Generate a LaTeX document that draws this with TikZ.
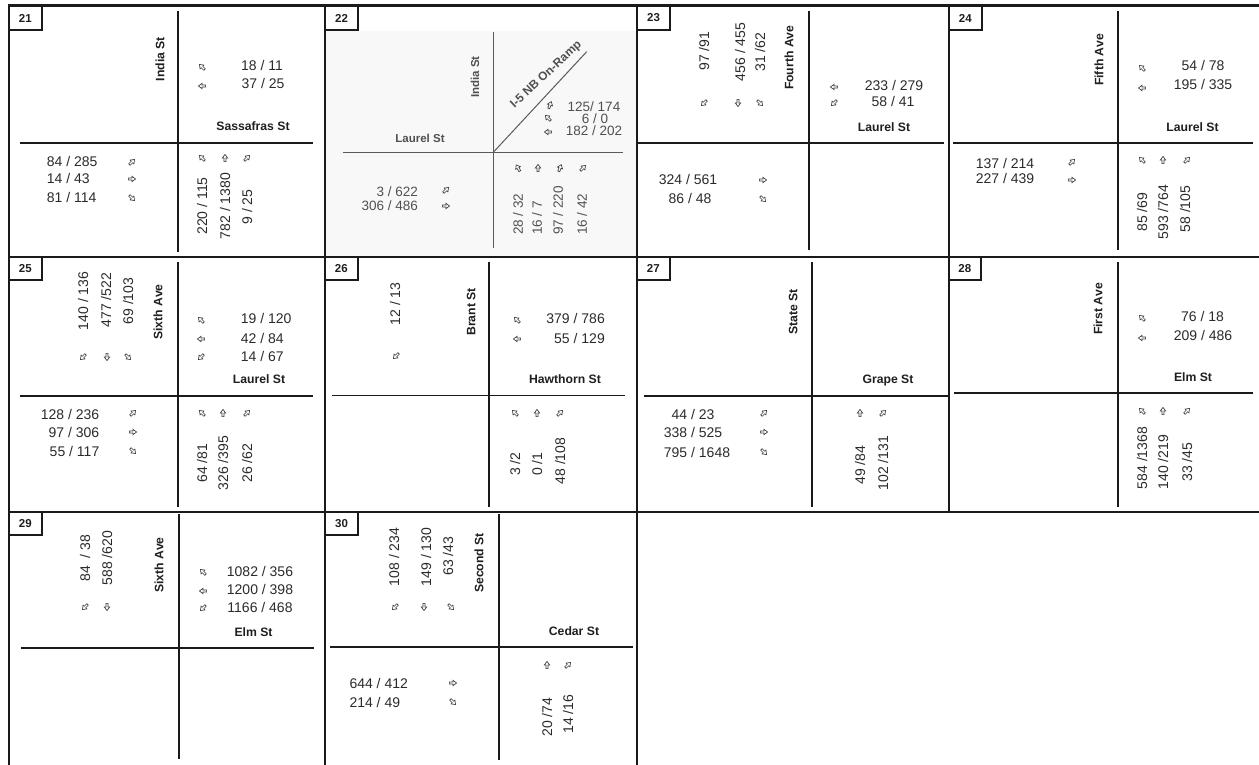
\documentclass[tikz,border=0pt]{standalone}
\usepackage{fontspec}
\setmainfont{Liberation Sans}
\definecolor{linec}{HTML}{1A1A1A}
\definecolor{numc}{HTML}{2B2B2B}
\definecolor{stc}{HTML}{1F1F1F}
\definecolor{arrc}{HTML}{3C3C3C}
\definecolor{gtext}{HTML}{505050}
\definecolor{gline}{HTML}{5A5A5A}
\definecolor{gbg}{HTML}{F8F8F8}
\newcommand{\tarr}[3]{\draw[arrglyph, shift={(#1,#2)}, rotate=#3] (-3.6,-1.05) -- (0,-1.05) -- (0,-2.7) -- (3.6,0) -- (0,2.7) -- (0,1.05) -- (-3.6,1.05) -- cycle;}
\tikzset{
  num/.style={font=\fontsize{14}{16}\selectfont, text=numc, inner sep=0pt, text height=10pt, text depth=0pt},
  numr/.style={num, rotate=90},
  num22/.style={font=\fontsize{13.5}{15}\selectfont, text=gtext, inner sep=0pt, text height=9.7pt, text depth=0pt},
  street/.style={font=\bfseries\fontsize{12.2}{14}\selectfont, text=stc, inner sep=0pt, text height=8.8pt, text depth=0pt},
  streetr/.style={street, rotate=90},
  street22/.style={font=\bfseries\fontsize{11.5}{13}\selectfont, text=gtext, inner sep=0pt, text height=8.3pt, text depth=0pt},
  cellno/.style={font=\bfseries\fontsize{11.5}{13}\selectfont, text=stc, inner sep=0pt},
  xline/.style={draw=linec, line width=1.2pt},
  gl/.style={draw=gline, line width=1pt},
  bline/.style={draw=linec, line width=2pt},
  tline/.style={draw=linec, line width=3pt},
  arrglyph/.style={draw=arrc, line width=0.65pt, line join=miter}
}
\begin{document}
\begin{tikzpicture}[x=1pt, y=-1pt]
\useasboundingbox (0,0) rectangle (1259,765);
\fill[white] (0,0) rectangle (1259,765);
% cell 22 scanned background
\fill[gbg] (326,31.5) rectangle (636,255.5);

% ===== grid =====
\draw[bline] (9,5) -- (9,765);
\draw[bline] (325,5) -- (325,765);
\draw[bline] (637,5) -- (637,765);
\draw[bline] (948.5,5) -- (948.5,511.7);
\draw[bline] (8,256.8) -- (1259,256.8);
\draw[bline] (8,511.7) -- (1259,511.7);
\draw[tline] (8,5.5) -- (1259,5.5);

% ===== number boxes =====
\draw[bline] (41.7,5.5) -- (41.7,30.3) -- (9,30.3);
\draw[bline] (358.3,5.5) -- (358.3,30.3) -- (325,30.3);
\draw[bline] (670.3,5.5) -- (670.3,30.3) -- (637,30.3);
\draw[bline] (982,5.5) -- (982,30.3) -- (948.5,30.3);
\draw[bline] (41.7,256.8) -- (41.7,280.3) -- (9,280.3);
\draw[bline] (357.7,256.8) -- (357.7,280.3) -- (325,280.3);
\draw[bline] (669.7,256.8) -- (669.7,280.3) -- (637,280.3);
\draw[bline] (981,256.8) -- (981,280.3) -- (948.5,280.3);
\draw[bline] (41.7,511.7) -- (41.7,535) -- (9,535);
\draw[bline] (358,511.7) -- (358,535) -- (325,535);
\node[cellno] (n21) at (25.3,18) {21};
\node[cellno] (n22) at (341.6,18) {22};
\node[cellno] (n23) at (653.6,18) {23};
\node[cellno] (n24) at (965.3,18) {24};
\node[cellno] (n25) at (25.3,268.6) {25};
\node[cellno] (n26) at (341.3,268.6) {26};
\node[cellno] (n27) at (653.3,268.6) {27};
\node[cellno] (n28) at (964.8,268.6) {28};
\node[cellno] (n29) at (25.3,523.4) {29};
\node[cellno] (n30) at (341.5,523.4) {30};

% ===== cell 21 =====
\draw[xline] (178,11) -- (178,252);
\draw[xline] (20,143) -- (313,143);
\node[streetr] (s21a) at (160,59) {India St};
\node[street] (s21b) at (253,126) {Sassafras St};
\tarr{202}{67}{135} \node[num] (a21) at (262,66) {18 / 11};
\tarr{202}{86}{180} \node[num] (b21) at (263,84) {37 / 25};
\node[num, anchor=west] (c21) at (46.7,162) {84 / 285};
\node[num, anchor=west] (d21) at (46.7,179) {14 / 43};
\node[num, anchor=west] (e21) at (46.7,197) {81 / 114};
\tarr{132}{162}{45} \tarr{132}{179}{0} \tarr{132}{198}{315}
\tarr{202}{158}{135} \tarr{225}{158}{90} \tarr{247}{158}{45}
\node[numr] (f21) at (202,206) {220 / 115};
\node[numr] (g21) at (225,206) {782 / 1380};
\node[numr] (h21) at (247,207) {9 / 25};

% ===== cell 22 =====
\draw[gl] (493.3,32) -- (493.3,248);
\draw[gl] (343,152.3) -- (623,152.3);
\draw[gl] (493.3,152.3) -- (586.7,51.7);
\node[street22, rotate=90] (s22a) at (475,77) {India St};
\node[street22, rotate=43, font=\bfseries\fontsize{12}{14}\selectfont] (s22b) at (545.5,74) {I-5 NB On-Ramp};
\node[street22] (s22c) at (420,138) {Laurel St};
\node[num22] (a22) at (594,107) {125/ 174};
\node[num22] (b22) at (595,118.5) {6 / 0};
\node[num22] (c22) at (594,131) {182 / 202};
\tarr{550}{105}{70} \tarr{548}{118}{135} \tarr{548}{132}{180}
\node[num22, anchor=east] (d22) at (418,192) {3 / 622};
\node[num22, anchor=east] (e22) at (418,205.5) {306 / 486};
\tarr{446}{190}{45} \tarr{446}{206}{0}
\tarr{518}{168}{120} \tarr{538}{168}{90} \tarr{560}{168}{70} \tarr{583}{168}{45}
\node[num22, rotate=90, anchor=west] (f22) at (518,235) {28 / 32};
\node[num22, rotate=90, anchor=west] (g22) at (537,235) {16 / 7};
\node[num22, rotate=90, anchor=west] (h22) at (558,235) {97 / 220};
\node[num22, rotate=90, anchor=west] (i22) at (582,235) {16 / 42};

% ===== cell 23 =====
\draw[xline] (809,11) -- (809,250);
\draw[xline] (637,143) -- (944,143);
\node[numr] (a23) at (704,51) {97 /91};
\node[numr] (b23) at (740,52) {456 / 455};
\node[numr] (c23) at (760,52) {31 /62};
\node[streetr] (s23a) at (789,58) {Fourth Ave};
\tarr{704}{103}{225} \tarr{738}{103}{270} \tarr{760}{103}{315}
\tarr{834}{87}{180} \tarr{834}{103}{225}
\node[num] (d23) at (894,86) {233 / 279};
\node[num] (e23) at (893,102) {58 / 41};
\node[street] (s23b) at (884,127) {Laurel St};
\node[num] (f23) at (688,180) {324 / 561};
\node[num] (g23) at (690,199) {86 / 48};
\tarr{763}{180}{0} \tarr{763}{199}{315}

% ===== cell 24 =====
\draw[xline] (1118,11) -- (1118,250);
\draw[xline] (953,143) -- (1253,143);
\node[streetr] (s24a) at (1099,60) {Fifth Ave};
\tarr{1142}{68}{135} \tarr{1142}{88}{180}
\node[num] (a24) at (1203,66) {54 / 78};
\node[num] (b24) at (1203,85) {195 / 335};
\node[street] (s24b) at (1192.5,127) {Laurel St};
\node[num] (c24) at (1005,163) {137 / 214};
\node[num] (d24) at (1005,179) {227 / 439};
\tarr{1072}{162}{45} \tarr{1072}{180}{0}
\tarr{1142}{160}{135} \tarr{1163}{160}{90} \tarr{1187}{160}{45}
\node[numr] (e24) at (1142,212) {85 /69};
\node[numr] (f24) at (1163,212) {593 /764};
\node[numr] (g24) at (1185,209) {58 /105};

% ===== cell 25 =====
\draw[xline] (178,262) -- (178,507);
\draw[xline] (20,396) -- (313,396);
\node[numr] (a25) at (83,301) {140 / 136};
\node[numr] (b25) at (106,300) {477 /522};
\node[numr] (c25) at (128,301) {69 /103};
\node[streetr] (s25a) at (158,312) {Sixth Ave};
\tarr{83}{357}{225} \tarr{107}{357}{270} \tarr{128}{357}{315}
\tarr{201}{320}{135} \tarr{201}{339}{180} \tarr{201}{357}{225}
\node[num, anchor=west] (d25) at (240.7,318) {19 / 120};
\node[num, anchor=west] (e25) at (240.7,338) {42 / 84};
\node[num, anchor=west] (f25) at (240.7,356) {14 / 67};
\node[street] (s25b) at (259,379) {Laurel St};
\node[num, anchor=east] (g25) at (99.5,414) {128 / 236};
\node[num, anchor=east] (h25) at (99.5,432) {97 / 306};
\node[num, anchor=east] (i25) at (99.5,451) {55 / 117};
\tarr{133}{413}{45} \tarr{133}{432}{0} \tarr{133}{451}{315}
\tarr{202}{413}{135} \tarr{223}{413}{90} \tarr{247}{413}{45}
\node[numr] (j25) at (202,463) {64 /81};
\node[numr] (k25) at (223,463) {326 /395};
\node[numr] (l25) at (247,463) {26 /62};

% ===== cell 26 =====
\draw[xline] (489,262) -- (489,507);
\draw[xline] (332,395.7) -- (625,395.7);
\node[numr] (a26) at (395,304) {12 / 13};
\tarr{396}{356}{225}
\node[streetr] (s26a) at (471,312) {Brant St};
\tarr{517}{320}{135} \tarr{517}{339}{180}
\node[num, anchor=east] (b26) at (605,318) {379 / 786};
\node[num, anchor=east] (c26) at (605,338) {55 / 129};
\node[street] (s26b) at (565,379) {Hawthorn St};
\tarr{515}{413}{135} \tarr{537}{413}{90} \tarr{560}{413}{45}
\node[numr] (d26) at (515,464) {3 /2};
\node[numr] (e26) at (537,464) {0 /1};
\node[numr] (f26) at (560,461) {48 /108};

% ===== cell 27 =====
\draw[xline] (812,262) -- (812,507);
\draw[xline] (644,396) -- (948,396);
\node[streetr] (s27a) at (793,312) {State St};
\node[street] (s27b) at (888,379) {Grape St};
\node[num] (a27) at (693,414) {44 / 23};
\node[num] (b27) at (693,432) {338 / 525};
\node[num] (c27) at (697,452) {795 / 1648};
\tarr{764}{413}{45} \tarr{764}{432}{0} \tarr{764}{452}{315}
\tarr{860}{413}{90} \tarr{883}{413}{45}
\node[numr] (d27) at (860,465) {49 /84};
\node[numr] (e27) at (883,463) {102 /131};

% ===== cell 28 =====
\draw[xline] (1118,262) -- (1118,507);
\draw[xline] (954,393) -- (1253,393);
\node[streetr] (s28a) at (1098,309) {First Ave};
\tarr{1142}{318}{135} \tarr{1142}{338}{180}
\node[num] (a28) at (1202.5,316) {76 / 18};
\node[num] (b28) at (1203,335) {209 / 486};
\node[street] (s28b) at (1193,377) {Elm St};
\tarr{1142}{411}{135} \tarr{1163}{411}{90} \tarr{1187}{411}{45}
\node[numr] (c28) at (1142,458) {584 /1368};
\node[numr] (d28) at (1163,462) {140 /219};
\node[numr] (e28) at (1187,462) {33 /45};

% ===== cell 29 =====
\draw[xline] (179,514) -- (179,759);
\draw[xline] (21,648) -- (314,648);
\node[numr] (a29) at (85,558) {84 \ / 38};
\node[numr] (b29) at (107,558) {588 /620};
\node[streetr] (s29a) at (159,565) {Sixth Ave};
\tarr{85}{607}{225} \tarr{107}{607}{270}
\tarr{203}{572}{135} \tarr{203}{591}{180} \tarr{203}{608}{225}
\node[num] (c29) at (260,571) {1082 / 356};
\node[num] (d29) at (260,589) {1200 / 398};
\node[num] (e29) at (260,607) {1166 / 468};
\node[street] (s29b) at (253.5,632) {Elm St};

% ===== cell 30 =====
\draw[xline] (499,514) -- (499,760);
\draw[xline] (330,647) -- (633,647);
\node[numr] (a30) at (394,557) {108 / 234};
\node[numr] (b30) at (426,557) {149 / 130};
\node[numr] (c30) at (448,556) {63 /43};
\node[streetr] (s30a) at (479,563) {Second St};
\tarr{395}{607}{225} \tarr{424}{607}{270} \tarr{451}{607}{315}
\node[street] (s30b) at (574,631) {Cedar St};
\node[num, anchor=west] (d30) at (349.3,683) {644 / 412};
\node[num, anchor=west] (e30) at (349.3,702) {214 / 49};
\tarr{453}{683}{0} \tarr{453}{702}{315}
\tarr{547}{665}{90} \tarr{568}{665}{45}
\node[numr] (f30) at (547,717) {20 /74};
\node[numr] (g30) at (568,714) {14 /16};
\end{tikzpicture}
\end{document}
